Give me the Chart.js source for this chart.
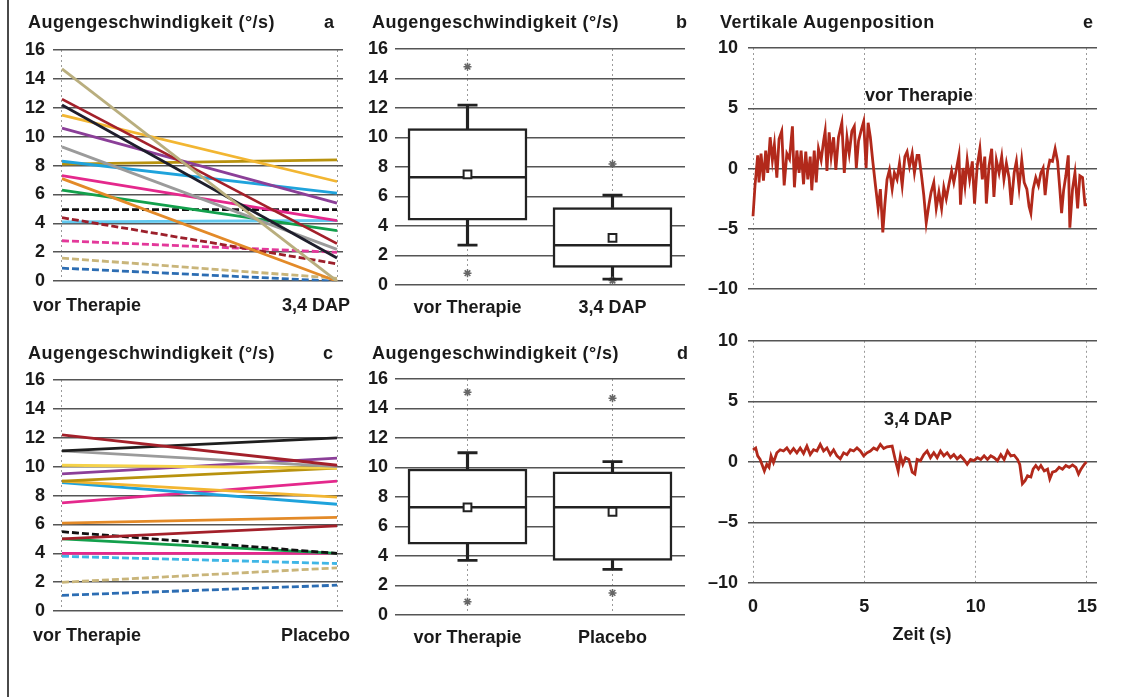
<!DOCTYPE html>
<html lang="de">
<head>
<meta charset="UTF-8" />
<title>Augengeschwindigkeit und Augenposition</title>
<script src="https://cdn.jsdelivr.net/npm/chart.js"></script>
<style>
  html, body { margin: 0; padding: 0; background: #fff; }
  body { position: relative; width: 1122px; height: 697px; overflow: hidden;
         font-family: 'Liberation Sans', Arial, sans-serif; color: #1a1a1a; }
  canvas { position: absolute; }
  .lbl { position: absolute; font-weight: bold; font-size: 18px; line-height: 18px; white-space: nowrap; }
  .title { letter-spacing: 0.45px; }
  .mid { transform: translateX(-50%); }
  #frame { position: absolute; left: 7px; top: 0; width: 2px; height: 697px; background: #4a4a4a; }
</style>
</head>
<body>
<div id="frame"></div>
<canvas id="chartA" width="355" height="300" style="left:0;top:0"></canvas>
<canvas id="chartC" width="355" height="300" style="left:0;top:330px"></canvas>
<canvas id="chartB" width="345" height="330" style="left:355px;top:0"></canvas>
<canvas id="chartD" width="345" height="330" style="left:355px;top:330px"></canvas>
<canvas id="chartE1" width="427" height="310" style="left:695px;top:0"></canvas>
<canvas id="chartE2" width="427" height="300" style="left:695px;top:320px"></canvas>

<div class="lbl title" style="left:28px;top:13px">Augengeschwindigkeit (°/s)</div>
<div class="lbl" style="right:788px;top:13px">a</div>
<div class="lbl title" style="left:372px;top:13px">Augengeschwindigkeit (°/s)</div>
<div class="lbl" style="right:435px;top:13px">b</div>
<div class="lbl title" style="left:28px;top:344px">Augengeschwindigkeit (°/s)</div>
<div class="lbl" style="right:789px;top:344px">c</div>
<div class="lbl title" style="left:372px;top:344px">Augengeschwindigkeit (°/s)</div>
<div class="lbl" style="right:434px;top:344px">d</div>
<div class="lbl title" style="left:720px;top:13px">Vertikale Augenposition</div>
<div class="lbl" style="right:29px;top:13px">e</div>

<div class="lbl" id="aLeft" style="left:33px;top:296px"></div>
<div class="lbl" id="aRight" style="right:772px;top:296px"></div>
<div class="lbl" id="cLeft" style="left:33px;top:626px"></div>
<div class="lbl" id="cRight" style="right:772px;top:626px"></div>
<div class="lbl mid" id="e1Label" style="left:919px;top:86px"></div>
<div class="lbl mid" id="e2Label" style="left:918px;top:410px"></div>
<div class="lbl mid" style="left:922px;top:625px">Zeit (s)</div>

<script>
// ---- data ----
const aCategories = ['vor Therapie', '3,4 DAP'];
const aBefore = [14.7, 12.6, 12.2, 11.5, 10.6, 9.3, 8.3, 8.1, 7.3, 7.1, 6.3, 4.95, 4.4, 4.1, 2.8, 1.6, 0.9];
const aAfter  = [0.0, 2.6, 1.6, 6.9, 5.4, 2.2, 6.1, 8.4, 4.2, 0.0, 3.5, 4.95, 1.2, 4.2, 2.0, 0.2, 0.0];

const cCategories = ['vor Therapie', 'Placebo'];
const cBefore = [12.2, 11.1, 11.1, 10.1, 9.5, 9.0, 9.0, 8.9, 7.5, 6.1, 5.0, 5.5, 5.0, 4.0, 3.8, 2.0, 1.1];
const cAfter  = [10.1, 12.0, 10.0, 9.9, 10.6, 9.9, 7.9, 7.4, 9.0, 6.5, 5.9, 4.0, 4.0, 4.0, 3.3, 3.0, 1.8];

const bCategories = ['vor Therapie', '3,4 DAP'];
const bLow = [2.7, 0.4];
const bQ1 = [4.4, 1.2];
const bMedian = [7.3, 2.7];
const bQ3 = [10.6, 5.25];
const bHigh = [12.2, 6.1];
const bMean = [7.5, 3.2];
const bOutHigh = [14.8, 8.2];
const bOutLow = [0.8, 0.3];

const dCategories = ['vor Therapie', 'Placebo'];
const dLow = [3.7, 3.1];
const dQ1 = [4.8, 3.7];
const dMedian = [7.3, 7.3];
const dQ3 = [9.9, 9.7];
const dHigh = [11.0, 10.4];
const dMean = [7.3, 7.0];
const dOutHigh = [15.1, 14.7];
const dOutLow = [0.9, 1.5];

const eLabels = ['vor Therapie', '3,4 DAP'];
// [Zeit (s), Position]
const eBeforeTrace = [
  [0.00,-3.95],[0.09,-1.4],[0.21,1.1],[0.27,-1.15],[0.36,1.25],[0.47,-1.0],[0.57,1.5],[0.66,-0.35],
  [0.77,2.6],[0.87,0.7],[0.96,2.0],[1.07,-0.75],[1.17,2.45],[1.29,3.1],[1.40,-1.4],[1.52,1.25],
  [1.64,0.8],[1.77,3.5],[1.86,-1.55],[1.97,1.5],[2.07,-0.35],[2.16,1.5],[2.27,-1.3],[2.37,1.4],
  [2.46,-0.9],[2.57,1.0],[2.64,-1.8],[2.75,1.5],[2.84,-1.15],[2.94,1.65],[3.06,0.7],[3.17,2.3],
  [3.24,3.1],[3.32,-0.2],[3.42,3.0],[3.51,1.0],[3.62,2.6],[3.72,-0.1],[3.84,2.6],[3.99,3.8],
  [4.10,-0.35],[4.22,2.6],[4.32,1.25],[4.44,3.1],[4.55,3.5],[4.64,0.05],[4.74,2.3],[4.85,3.1],
  [4.97,3.9],[5.08,0.05],[5.17,3.8],[5.27,2.6],[5.38,0.6],[5.50,-1.4],[5.62,-3.3],[5.72,-1.7],
  [5.83,-5.3],[5.92,-3.0],[6.02,-0.9],[6.13,-0.1],[6.25,-1.7],[6.35,-0.35],[6.47,-0.9],[6.58,0.45],
  [6.70,-1.4],[6.82,1.0],[6.92,1.4],[7.03,0.2],[7.15,1.25],[7.25,-0.35],[7.37,1.1],[7.45,1.1],
  [7.57,-0.6],[7.67,-2.2],[7.78,-4.5],[7.90,-3.0],[8.00,-1.95],[8.12,-1.15],[8.23,-3.3],[8.35,-1.95],
  [8.47,-3.3],[8.57,-1.55],[8.68,-2.5],[8.80,-1.3],[8.92,-0.2],[9.02,-1.15],[9.13,-0.1],[9.25,1.1],
  [9.32,-3.0],[9.43,0.05],[9.52,-1.4],[9.62,0.7],[9.73,-0.9],[9.85,0.6],[9.95,-2.9],[10.07,0.2],
  [10.19,1.65],[10.30,-0.9],[10.41,1.0],[10.48,-2.9],[10.60,0.2],[10.72,1.65],[10.82,-2.35],[10.93,0.7],
  [11.05,-0.35],[11.17,1.0],[11.27,-0.9],[11.38,0.45],[11.50,-0.75],[11.60,-3.0],[11.73,-0.35],[11.83,0.6],
  [11.95,-1.55],[12.07,0.7],[12.18,-1.15],[12.30,-1.7],[12.40,-3.15],[12.48,-3.7],[12.58,-1.7],[12.70,-0.75],
  [12.82,-1.4],[12.93,-0.35],[13.03,0.05],[13.12,-2.2],[13.23,-0.2],[13.33,0.7],[13.45,0.6],[13.57,1.65],
  [13.68,0.6],[13.78,-1.7],[13.86,-3.7],[13.95,-1.8],[14.05,-0.6],[14.16,1.1],[14.23,-4.9],[14.35,-1.7],
  [14.46,-0.35],[14.58,-3.3],[14.68,-0.6],[14.80,-0.75],[14.91,-3.0],[15.00,-3.0]
];
const eAfterTrace = [
  [0.00,1.0],[0.12,1.15],[0.21,0.5],[0.32,0.2],[0.42,-0.3],[0.51,-0.75],[0.62,-0.2],[0.72,-0.45],
  [0.81,0.5],[0.92,-0.05],[1.07,0.75],[1.22,1.0],[1.37,0.9],[1.52,1.15],[1.67,0.75],[1.82,1.1],
  [1.97,0.75],[2.12,1.15],[2.27,0.7],[2.42,1.3],[2.57,0.6],[2.72,1.0],[2.87,0.9],[3.02,1.45],
  [3.17,0.9],[3.32,1.15],[3.47,0.6],[3.62,1.0],[3.77,0.5],[3.92,0.25],[4.07,0.75],[4.22,0.6],
  [4.37,1.0],[4.52,0.9],[4.67,1.15],[4.82,0.9],[4.97,0.5],[5.12,0.75],[5.27,0.9],[5.42,1.15],
  [5.57,1.0],[5.72,1.45],[5.87,1.1],[6.02,1.25],[6.25,1.3],[6.40,0.1],[6.52,-0.75],[6.62,0.5],
  [6.73,-0.2],[6.85,0.35],[7.00,0.2],[7.15,-0.85],[7.27,-1.0],[7.37,0.2],[7.52,0.1],[7.67,0.6],
  [7.82,0.9],[7.97,0.35],[8.12,0.75],[8.27,0.35],[8.42,0.9],[8.57,0.5],[8.72,0.75],[8.87,0.35],
  [9.02,0.6],[9.17,0.25],[9.32,0.5],[9.47,0.2],[9.62,-0.2],[9.77,0.2],[9.92,0.1],[10.08,0.35],
  [10.23,0.2],[10.38,0.5],[10.53,0.2],[10.68,0.5],[10.83,0.35],[10.98,0.1],[11.13,0.6],[11.28,0.2],
  [11.43,0.9],[11.58,0.5],[11.73,0.55],[11.88,0.2],[11.98,-0.2],[12.10,-1.8],[12.22,-1.55],[12.33,-1.15],
  [12.48,-1.25],[12.58,-0.6],[12.70,-0.3],[12.82,-0.6],[12.93,-0.3],[13.08,-0.75],[13.23,-0.6],[13.33,-1.4],
  [13.45,-0.85],[13.60,-0.75],[13.75,-0.45],[13.90,-0.6],[14.05,-0.3],[14.20,-0.45],[14.35,-0.25],[14.50,-0.45],
  [14.62,-1.0],[14.73,-0.6],[14.88,-0.2],[14.98,0.0]
];

// ---- styles ----
const aColors = ['#b9ae7e', '#a3202a', '#1e1e2c', '#f2b632', '#8b3f98', '#9b9b9b', '#1fa3dc', '#b8920e',
                 '#e4288c', '#e38a28', '#13a04c', '#111111', '#9c1f2b', '#62c9ef', '#e3389a', '#c9b57a', '#2c6db3'];
const aDashed = [0, 0, 0, 0, 0, 0, 0, 0, 0, 0, 0, 1, 1, 0, 1, 1, 1];
const cColors = ['#a3202a', '#1e1e1e', '#9b9b9b', '#f5d24a', '#8b3f98', '#b8920e', '#f2b632', '#1fa3dc',
                 '#e4288c', '#e38a28', '#a3202a', '#111111', '#13a04c', '#e4288c', '#3fb6e6', '#c9b57a', '#2c6db3'];
const cDashed = [0, 0, 0, 0, 0, 0, 0, 0, 0, 0, 0, 1, 0, 0, 1, 1, 1];

Chart.defaults.font.family = "'Liberation Sans', Arial, sans-serif";
Chart.defaults.font.size = 18;
Chart.defaults.font.weight = 'bold';
Chart.defaults.color = '#1a1a1a';
Chart.defaults.animation = false;
Chart.defaults.responsive = false;
Chart.defaults.layout.autoPadding = false;
Chart.defaults.plugins.legend.display = false;
Chart.defaults.plugins.tooltip.enabled = false;

const gridDark = '#555';
const gridDot = '#9a9a9a';

function speedChart(id, before, after, colors, dashed) {
  const datasets = before.map((v, i) => ({
    data: [{ x: 0, y: v }, { x: 1, y: after[i] }],
    borderColor: colors[i],
    borderWidth: 2.8,
    borderDash: dashed[i] ? [7, 3] : [],
    pointRadius: 0,
    tension: 0
  }));
  new Chart(document.getElementById(id), {
    type: 'line',
    data: { datasets },
    options: {
      layout: { padding: { top: 50, left: 0, right: 12, bottom: 14 } },
      scales: {
        x: {
          type: 'linear', min: -0.0327, max: 1.0218,
          afterBuildTicks: s => { s.ticks = [{ value: 0 }, { value: 1 }]; },
          ticks: { display: false },
          grid: { color: gridDot, lineWidth: 1, drawTicks: false },
          border: { display: false, dash: [2, 3] },
          afterFit: s => { s.height = 0; }
        },
        y: {
          min: 0, max: 16,
          ticks: { stepSize: 2, padding: 8 },
          grid: { color: gridDark, lineWidth: 1.6, drawTicks: false },
          border: { display: false },
          afterFit: s => { s.width = 53; }
        }
      }
    }
  });
}

function boxChart(id, cats, low, q1, med, q3, high, mean, outHigh, outLow) {
  const pts = (data, extra) => Object.assign({
    type: 'line', data, showLine: false, order: 1,
    pointBorderColor: '#222', pointBackgroundColor: '#fff'
  }, extra);
  new Chart(document.getElementById(id), {
    type: 'bar',
    data: {
      labels: cats,
      datasets: [
        { data: q1.map((v, i) => [v, q3[i]]), backgroundColor: '#fff', borderColor: '#222',
          borderWidth: 2.5, borderSkipped: false, barThickness: 119, grouped: false, order: 5 },
        { data: low.map((v, i) => [v, q1[i]]), backgroundColor: '#222', barThickness: 2.5, grouped: false, order: 6 },
        { data: q3.map((v, i) => [v, high[i]]), backgroundColor: '#222', barThickness: 2.5, grouped: false, order: 6 },
        pts(high, { pointStyle: 'line', pointRadius: 10, pointBorderWidth: 2.8 }),
        pts(low, { pointStyle: 'line', pointRadius: 10, pointBorderWidth: 2.8 }),
        pts(med, { pointStyle: 'line', pointRadius: 59, pointBorderWidth: 2.5 }),
        pts(mean, { pointStyle: 'rect', pointRadius: 5.5, pointBorderWidth: 2, order: 0 }),
        pts(outHigh, { pointStyle: 'star', pointRadius: 4, pointBorderWidth: 1.5, pointBorderColor: '#666' }),
        pts(outLow, { pointStyle: 'star', pointRadius: 4, pointBorderWidth: 1.5, pointBorderColor: '#666' })
      ]
    },
    options: {
      layout: { padding: { top: 49, left: 0, right: 15, bottom: 10 } },
      scales: {
        x: {
          ticks: { padding: 12, maxRotation: 0, minRotation: 0, autoSkip: false },
          grid: { offset: false, color: gridDot, lineWidth: 1, drawTicks: false },
          border: { display: false, dash: [2, 3] },
          afterFit: s => { s.height = 35; s.paddingLeft = 0; s.paddingRight = 0; }
        },
        y: {
          min: 0, max: 16,
          ticks: { stepSize: 2, padding: 7 },
          grid: { color: gridDark, lineWidth: 1.6, drawTicks: false },
          border: { display: false },
          afterFit: s => { s.width = 40; }
        }
      }
    }
  });
}

function traceChart(id, trace, showX, pad, xHeight) {
  new Chart(document.getElementById(id), {
    type: 'line',
    data: {
      datasets: [{
        data: trace.map(p => ({ x: p[0], y: p[1] })),
        borderColor: '#b2291b', borderWidth: 2.8, pointRadius: 0, tension: 0
      }]
    },
    options: {
      layout: { padding: pad },
      scales: {
        x: {
          type: 'linear', min: -0.225, max: 15.45,
          ticks: { display: showX, stepSize: 5, includeBounds: false, padding: 13, maxRotation: 0 },
          grid: { color: gridDot, lineWidth: 1, drawTicks: false },
          border: { display: false, dash: [2, 3] },
          afterFit: s => { s.height = xHeight; }
        },
        y: {
          min: -10, max: 10,
          ticks: { stepSize: 5, padding: 10, callback: v => v < 0 ? '\u2013' + Math.abs(v) : String(v) },
          grid: { color: gridDark, lineWidth: 1.6, drawTicks: false },
          border: { display: false },
          afterFit: s => { s.width = 53; }
        }
      }
    }
  });
}

speedChart('chartA', aBefore, aAfter, aColors, aDashed);
speedChart('chartC', cBefore, cAfter, cColors, cDashed);
boxChart('chartB', bCategories, bLow, bQ1, bMedian, bQ3, bHigh, bMean, bOutHigh, bOutLow);
boxChart('chartD', dCategories, dLow, dQ1, dMedian, dQ3, dHigh, dMean, dOutHigh, dOutLow);
traceChart('chartE1', eBeforeTrace, false, { top: 48, left: 0, right: 25, bottom: 15 }, 0);
traceChart('chartE2', eAfterTrace, true, { top: 16, left: 0, right: 25, bottom: 2 }, 35);

document.getElementById('aLeft').textContent = aCategories[0];
document.getElementById('aRight').textContent = aCategories[1];
document.getElementById('cLeft').textContent = cCategories[0];
document.getElementById('cRight').textContent = cCategories[1];
document.getElementById('e1Label').textContent = eLabels[0];
document.getElementById('e2Label').textContent = eLabels[1];
</script>
</body>
</html>
